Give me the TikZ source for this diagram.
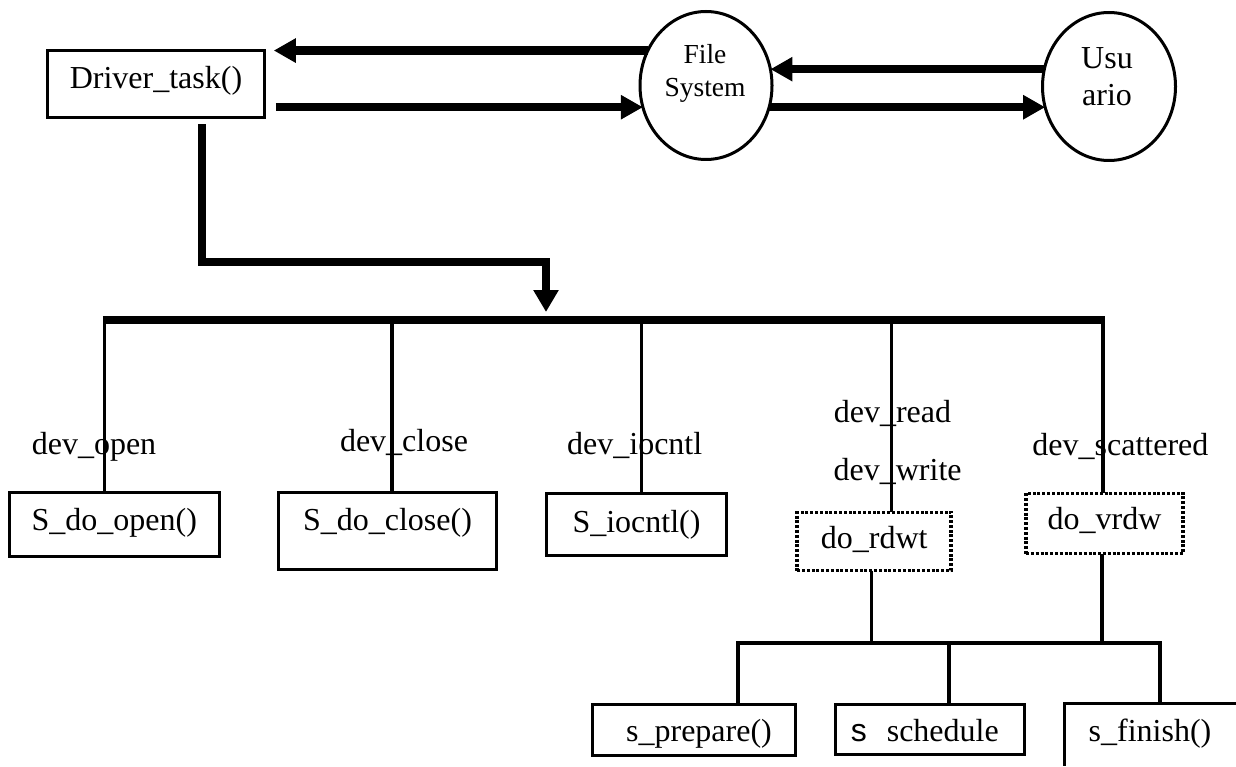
\documentclass[tikz,border=0pt]{standalone}
\usepackage{fontspec}
\setmainfont{Liberation Serif}
\newfontfamily\arialf{Liberation Sans}
\usetikzlibrary{arrows.meta,shapes.geometric}
\begin{document}
\begin{tikzpicture}[x=1pt,y=-1pt,
  every node/.style={font=\fontsize{32}{37.7}\selectfont, inner sep=0pt, outer sep=0pt},
  box/.style={draw, line width=3pt, rectangle},
  dotbox/.style={draw, line width=3.5pt, dash pattern=on 3pt off 1.8pt, rectangle},
  oval/.style={draw, line width=3pt, ellipse},
  big/.style={line width=8.5pt, -{Triangle[length=22pt,width=23pt]}},
  drvpath/.style={line width=7.5pt, -{Triangle[length=22pt,width=24pt]}},
  bus/.style={line width=7.5pt},
  thin/.style={line width=3.5pt},
  lbl/.style={anchor=base}
]
\useasboundingbox (0,0) rectangle (1236,767);

% top part
\node[box, minimum width=217.5pt, minimum height=67pt, text height=18.3pt, text depth=9.7pt] (drv) at (156,84) {Driver\_task()};
\node[oval, minimum width=132pt, minimum height=148pt] (fs) at (706,85.5) {};
\node[oval, minimum width=133pt, minimum height=148pt] (us) at (1109,86.5) {};
\node[anchor=north, align=center, font=\fontsize{27.5}{32.7}\selectfont] (fstxt) at (705,44.5) {File\\System};
\node[anchor=north, align=center] (ustxt) at (1107,47.1) {Usu\\ario};

\draw[big, shorten >=9pt] (fs.149) -- (drv.east |- fs.149);
\draw[big, shorten <=11pt] (drv.east |- fs.199) -- (fs.199);
\draw[big] (us.165) -- (fs.14 |- us.165);
\draw[big] (fs.-19) -- (us.198 |- fs.-19);

% bus
\coordinate (bustip) at (546,312);
\coordinate (b1) at (104.5,320);
\coordinate (b2) at (391.8,320);
\coordinate (b3) at (641.4,320);
\coordinate (b4) at (891.4,320);
\coordinate (b5) at (1103,320);
\draw[drvpath, shorten <=7pt] ([xshift=46pt]drv.south) |- (546,262) -- (bustip);
\draw[bus] ([xshift=-1.75pt]b1) -- ([xshift=1.75pt]b5);

% second level boxes
\node[box, minimum width=209.6pt, minimum height=63.7pt, text height=19.6pt, text depth=8.4pt] (sdo) at (114.3,524.4) {S\_do\_open()};
\node[box, minimum width=218pt, minimum height=77pt, text height=13pt, text depth=15pt] (sdc) at (387.5,531) {S\_do\_close()};
\node[box, minimum width=180pt, minimum height=62pt, text height=21.8pt, text depth=6.2pt] (sio) at (636.5,524.2) {S\_iocntl()};
\node[dotbox, minimum width=154pt, minimum height=58.3pt, text height=20.6pt, text depth=7.4pt] (rdwt) at (874.2,541.4) {do\_rdwt};
\node[dotbox, minimum width=157pt, minimum height=60.3pt, text height=19.6pt, text depth=8.4pt] (vrdw) at (1104.6,523.4) {do\_vrdw};

% labels
\node[lbl] (lopen) at (94,454) {dev\_open};
\node[lbl] (lclose) at (404,451.7) {dev\_close};
\node[lbl] (lioc) at (634.7,454) {dev\_iocntl};
\node[lbl] (lread) at (892.5,422.7) {dev\_read};
\node[lbl] (lwrite) at (897.6,480) {dev\_write};
\node[lbl] (lscat) at (1120.4,455) {dev\_scattered};

\draw[thin] (b1) -- (b1 |- sdo.north);
\draw[thin] (b2) -- (b2 |- sdc.north);
\draw[thin] (b3) -- (b3 |- sio.north);
\draw[thin] (b4) -- (b4 |- rdwt.north);
\draw[thin] (b5) -- (b5 |- vrdw.north);

% third level
\node[box, minimum width=203pt, minimum height=50.7pt, text height=25.8pt, text depth=2.2pt] (spre) at (693.6,729.9) {\hspace*{10.8pt}s\_prepare()};
\node[box, minimum width=188.6pt, minimum height=49.7pt, text height=26.3pt, text depth=1.7pt] (ssch) at (929.8,729.4) {{\arialf s}\hspace{20pt}schedule\hspace*{10pt}};
\node[lbl] (sfin) at (1150,741.7) {s\_finish()};
\draw[line width=3pt] (1064,765.7) |- (1240,703.3);

\coordinate (jl) at (738,643);
\coordinate (jm) at (949,643);
\coordinate (jr) at (1160,643);
\draw[thin] (rdwt.south -| 871.5,0) -- (871.5,643);
\draw[thin] (vrdw.south -| 1102,0) -- (1102,643);
\draw[thin] ([xshift=-1.75pt]jl) -- ([xshift=1.75pt]jr);
\draw[thin] (jl) -- (jl |- spre.north);
\draw[thin] (jm) -- (jm |- ssch.north);
\draw[thin] (jr) -- (1160,703.3);
\end{tikzpicture}
\end{document}
